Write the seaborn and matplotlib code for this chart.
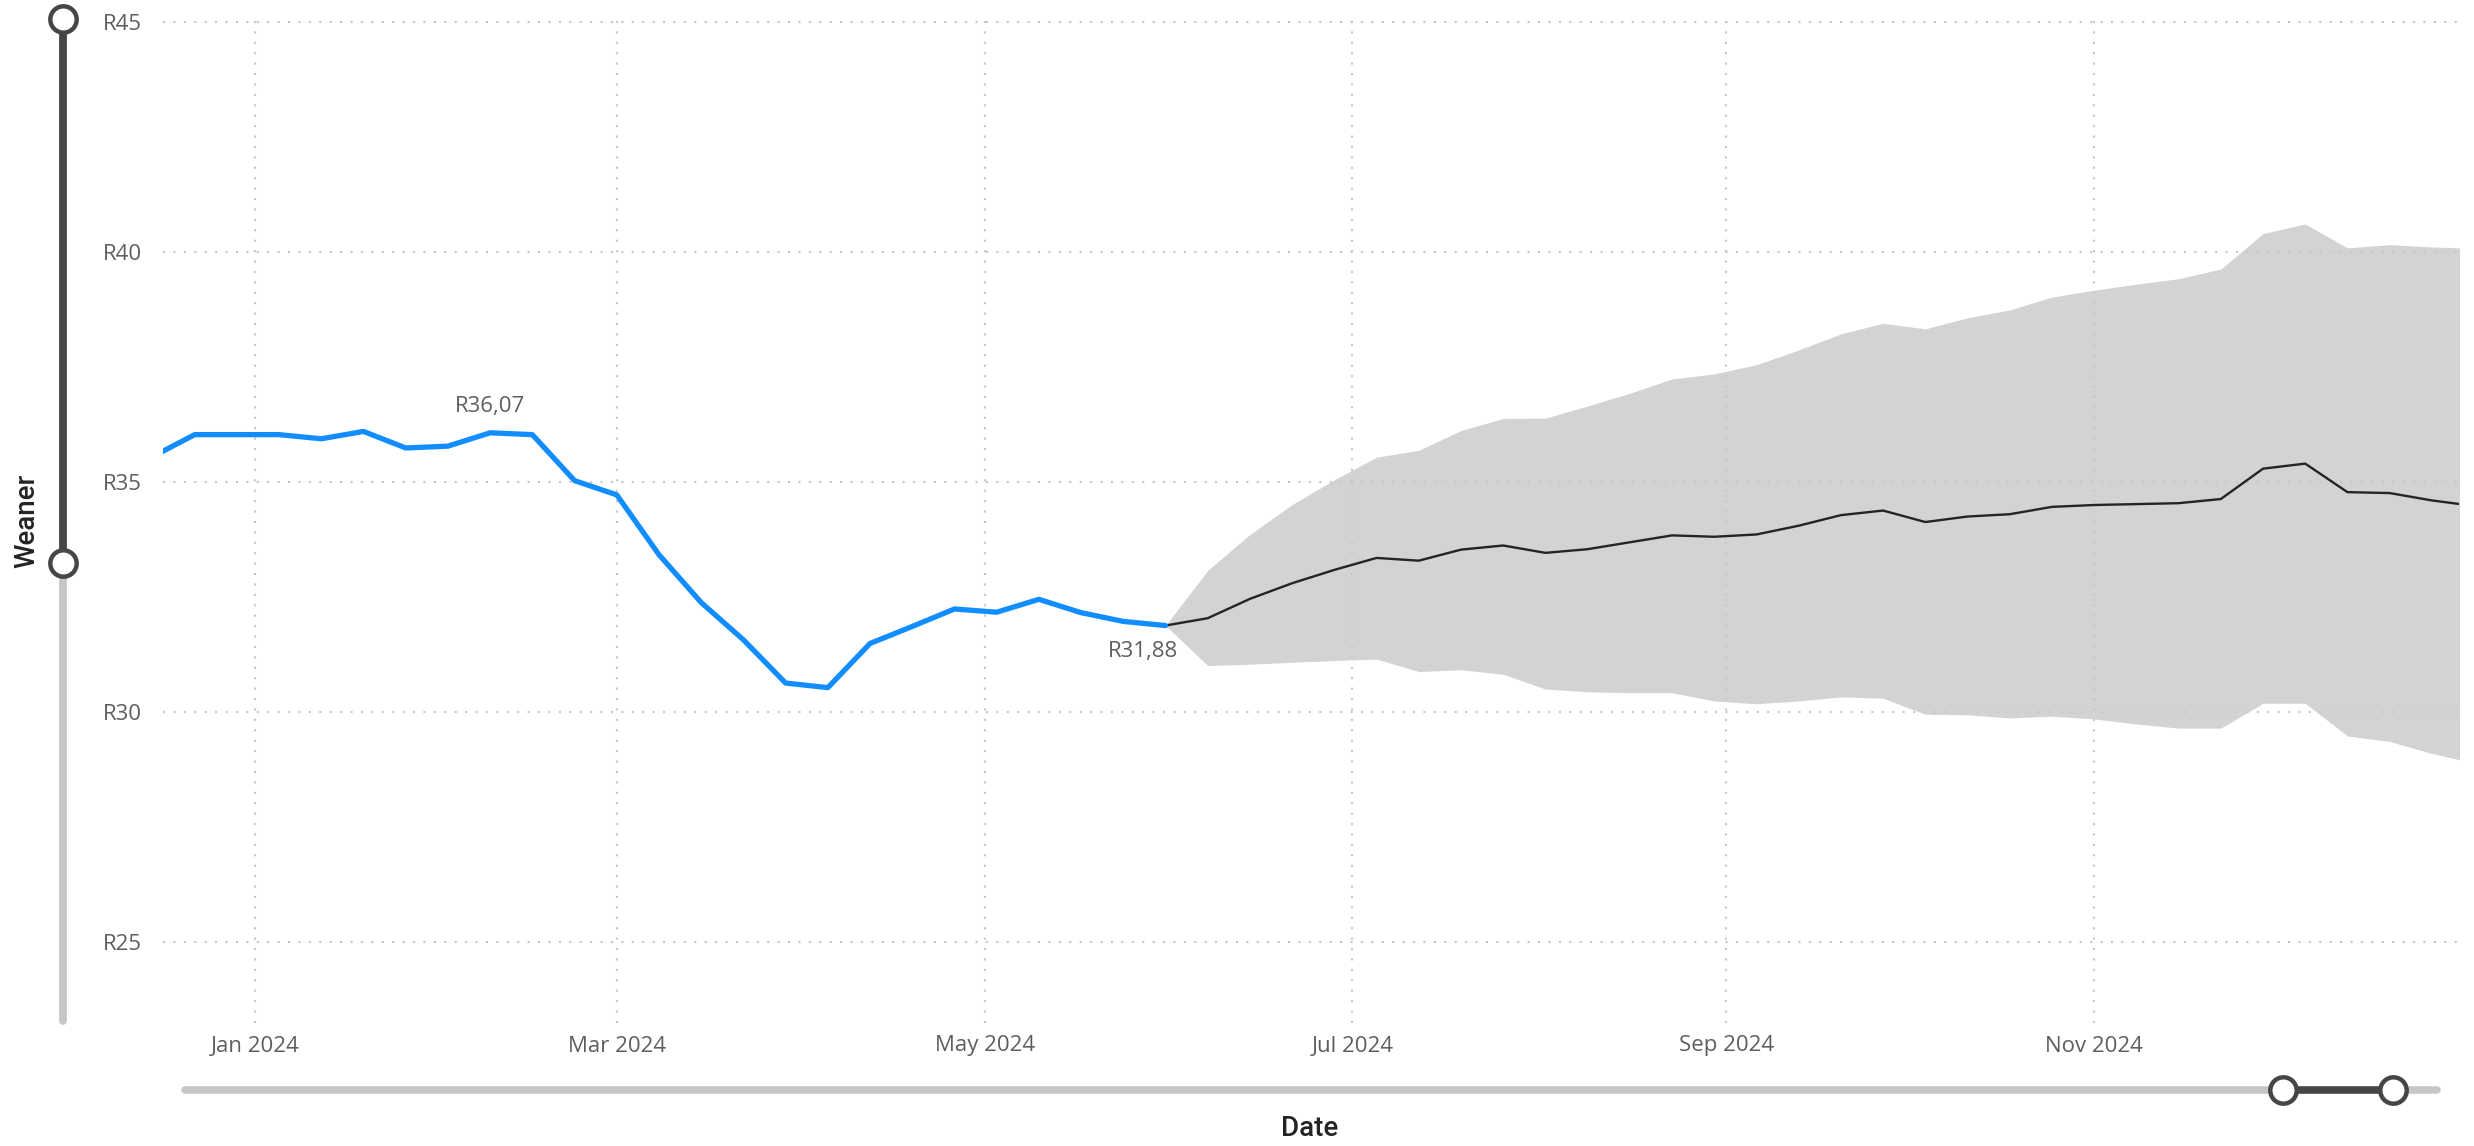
import matplotlib
matplotlib.use("Agg")
import matplotlib.pyplot as plt
import matplotlib.dates as mdates
from matplotlib.lines import Line2D
import seaborn as sns
import pandas as pd

W, H = 2474, 1146

# weekly actual prices (R)
actual_dates = pd.date_range("2023-12-15", "2024-05-31", freq="7D")
actual_vals = [35.55, 36.03, 36.03, 36.03, 35.94, 36.10, 35.74, 35.78, 36.07, 36.03,
               35.03, 34.72, 33.42, 32.38, 31.57, 30.63, 30.53, 31.49, 31.86, 32.24,
               32.17, 32.45, 32.16, 31.97, 31.88]

# weekly forecast with band
fc_dates = pd.date_range("2024-05-31", periods=32, freq="7D")
fc_vals = [31.88, 32.04, 32.46, 32.80, 33.09, 33.35, 33.29, 33.53, 33.62, 33.46,
           33.54, 33.69, 33.84, 33.81, 33.86, 34.05, 34.28, 34.38, 34.13, 34.25,
           34.30, 34.46, 34.50, 34.52, 34.54, 34.63, 35.29, 35.40, 34.78, 34.76,
           34.60, 34.48]
fc_upper = [31.88, 33.08, 33.86, 34.51, 35.05, 35.54, 35.69, 36.12, 36.38, 36.39,
            36.65, 36.93, 37.24, 37.35, 37.55, 37.87, 38.22, 38.45, 38.33, 38.57,
            38.74, 39.02, 39.17, 39.30, 39.42, 39.63, 40.40, 40.61, 40.09, 40.16,
            40.11, 40.08]
fc_lower = [31.88, 31.01, 31.04, 31.08, 31.12, 31.15, 30.88, 30.92, 30.82, 30.50,
            30.44, 30.42, 30.42, 30.24, 30.18, 30.24, 30.33, 30.30, 29.95, 29.94,
            29.87, 29.91, 29.85, 29.74, 29.65, 29.65, 30.19, 30.19, 29.48, 29.36,
            29.10, 28.89]

y_ticks = [25, 30, 35, 40, 45]

df_act = pd.DataFrame({"Date": actual_dates, "Weaner": actual_vals})
df_fc = pd.DataFrame({"Date": fc_dates, "Weaner": fc_vals,
                      "upper": fc_upper, "lower": fc_lower})

sns.set_theme(style="white")
plt.rcParams["font.family"] = ["Open Sans", "DejaVu Sans"]

fig = plt.figure(figsize=(W / 100, H / 100), dpi=100)
ax_left, ax_right = 163, 2459
ax_top, ax_bot = 17.4, 1023
ax = fig.add_axes([ax_left / W, 1 - ax_bot / H, (ax_right - ax_left) / W, (ax_bot - ax_top) / H])

ax.fill_between(df_fc["Date"], df_fc["lower"], df_fc["upper"], color="#D3D3D3",
                linewidth=0, zorder=0.3)
sns.lineplot(data=df_fc, x="Date", y="Weaner", color="#252423", linewidth=1.7, ax=ax, zorder=2)
sns.lineplot(data=df_act, x="Date", y="Weaner", color="#118DFF", linewidth=3.8, ax=ax, zorder=3)

ax.set_xlim(pd.Timestamp("2023-12-16 18:00"), pd.Timestamp("2024-12-31 12:00"))
ax.set_ylim(23.24, 45.1)
ax.set_yticks(y_ticks)
ax.set_yticklabels([f"R{v}" for v in y_ticks])
ax.xaxis.set_major_locator(mdates.MonthLocator(bymonth=[1, 3, 5, 7, 9, 11]))
ax.xaxis.set_major_formatter(mdates.DateFormatter("%b %Y"))

ax.set_axisbelow(True)
ax.grid(True, color="#C8C6C4", linestyle=(0, (1, 4)), linewidth=1.5)
for s in ax.spines.values():
    s.set_visible(False)
ax.tick_params(axis="both", length=0, labelsize=16, labelcolor="#605E5C")
ax.tick_params(axis="y", pad=15)
ax.tick_params(axis="x", pad=9)
ax.set_xlabel("")
ax.set_ylabel("")

# data labels
ax.annotate("R36,07", xy=(actual_dates[8], actual_vals[8]), xytext=(0, 18.7),
            textcoords="offset points", ha="center", va="center", fontsize=16, color="#605E5C")
ax.annotate("R31,88", xy=(actual_dates[-1], actual_vals[-1]), xytext=(-16.5, -19),
            textcoords="offset points", ha="center", va="center", fontsize=16, color="#605E5C")

# axis titles
title_font = ["Roboto", "DejaVu Sans"]
fig.text(27 / W, 1 - 521 / H, "Weaner", rotation=90, ha="center", va="center",
         fontsize=20, fontweight="medium", color="#252423", family=title_font)
fig.text(1310 / W, 1 - 1128 / H, "Date", ha="center", va="center",
         fontsize=20, fontweight="medium", color="#252423", family=title_font)


def fx(px):
    return px / W


def fy(py):
    return 1 - py / H


grey, dark = "#C8C6C4", "#474644"
# vertical range slider
fig.add_artist(Line2D([fx(63), fx(63)], [fy(563), fy(1021)], color=grey, linewidth=5.6,
                      solid_capstyle="round", transform=fig.transFigure))
fig.add_artist(Line2D([fx(63), fx(63)], [fy(19), fy(563)], color=dark, linewidth=5.6,
                      transform=fig.transFigure))
fig.add_artist(Line2D([fx(63), fx(63)], [fy(19), fy(563)], linestyle="none", marker="o",
                      markersize=19, markerfacecolor="white", markeredgecolor=dark,
                      markeredgewidth=3.2, transform=fig.transFigure))
# horizontal range slider
fig.add_artist(Line2D([fx(185), fx(2437)], [fy(1090), fy(1090)], color=grey, linewidth=5.4,
                      solid_capstyle="round", transform=fig.transFigure))
fig.add_artist(Line2D([fx(2283), fx(2393)], [fy(1090), fy(1090)], color=dark, linewidth=5.4,
                      transform=fig.transFigure))
fig.add_artist(Line2D([fx(2283), fx(2393)], [fy(1090), fy(1090)], linestyle="none", marker="o",
                      markersize=19, markerfacecolor="white", markeredgecolor=dark,
                      markeredgewidth=3.2, transform=fig.transFigure))

fig.savefig("out.png", dpi=100)
